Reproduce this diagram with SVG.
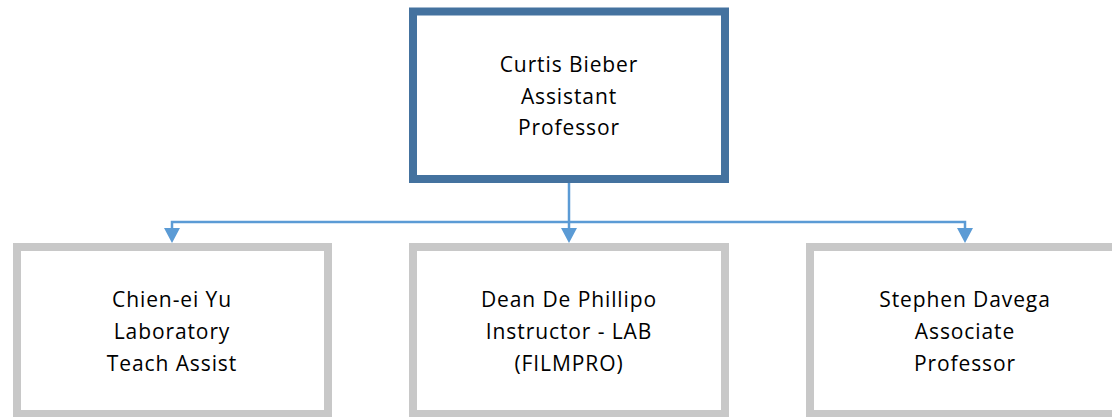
<svg xmlns="http://www.w3.org/2000/svg" width="1112" height="417" viewBox="0 0 1112 417">
<style>
.box{fill:#fff;stroke:#c8c8c8;stroke-width:8}
.top{fill:#fff;stroke:#44729f;stroke-width:8}
.t{font-family:"Open Sans",sans-serif;font-size:21px;letter-spacing:0.9px;fill:#000;text-anchor:middle}
.c{fill:none;stroke:#5b9bd5;stroke-width:2.5}
.ah{fill:#5b9bd5}
</style>
<g id="connectors">
<path class="c" d="M569,183 V228"/>
<path class="c" d="M172,228 V222 H965 V228"/>
<path class="ah" d="M164,228 L180,228 L172,243 Z"/>
<path class="ah" d="M561,228 L577,228 L569,243 Z"/>
<path class="ah" d="M957,228 L973,228 L965,243 Z"/>
</g>
<g id="n0">
<rect class="top" x="413" y="11.5" width="312" height="167.5"/>
<text class="t" x="569" y="72">Curtis Bieber</text>
<text class="t" x="569" y="103.5">Assistant</text>
<text class="t" x="569" y="135">Professor</text>
</g>
<g id="n1">
<rect class="box" x="17" y="247" width="311" height="167"/>
<text class="t" x="172" y="307">Chien-ei Yu</text>
<text class="t" x="172" y="339">Laboratory</text>
<text class="t" x="172" y="371">Teach Assist</text>
</g>
<g id="n2">
<rect class="box" x="413" y="247" width="312" height="167"/>
<text class="t" x="569" y="307">Dean De Phillipo</text>
<text class="t" x="569" y="339">Instructor - LAB</text>
<text class="t" x="569" y="371">(FILMPRO)</text>
</g>
<g id="n3">
<rect class="box" x="810" y="247" width="311" height="167"/>
<text class="t" x="965" y="307">Stephen Davega</text>
<text class="t" x="965" y="339">Associate</text>
<text class="t" x="965" y="371">Professor</text>
</g>
</svg>
